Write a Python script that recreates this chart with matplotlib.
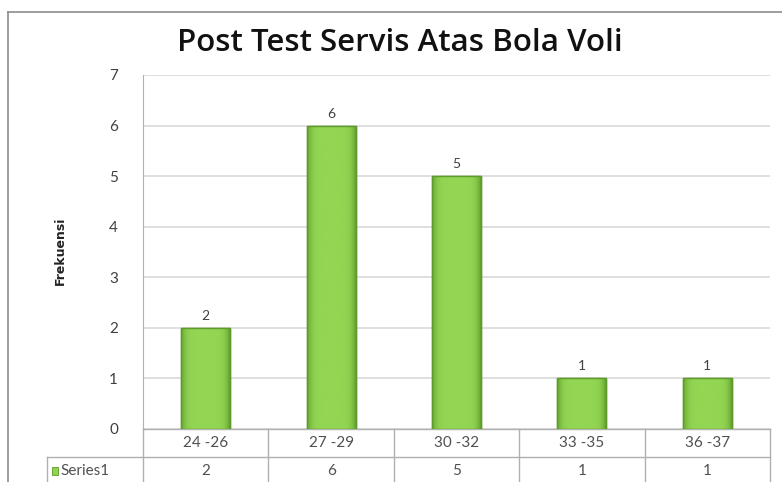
#!/usr/bin/env python3
"""
Post Test Servis Atas Bola Voli - histogramme style Excel avec table de données
"""

import matplotlib
matplotlib.use('Agg')
import matplotlib.pyplot as plt
from matplotlib.patches import Rectangle
from matplotlib.transforms import blended_transform_factory
import numpy as np

categories = ['24 -26', '27 -29', '30 -32', '33 -35', '36 -37']
frekuensi = [2, 6, 5, 1, 1]
series_name = 'Series1'
title = 'Post Test Servis Atas Bola Voli'
y_label = 'Frekuensi'

W, H = 782, 482
plt.rcParams['font.family'] = ['Lato', 'DejaVu Sans']

fig = plt.figure(figsize=(W / 100, H / 100), dpi=100)

def px(x0, y0, x1, y1):
    # pixels -> fraction de figure
    return [x0 / W, 1 - y1 / H, (x1 - x0) / W, (y1 - y0) / H]

# cadre extérieur du graphique (ouvert à droite et en bas)
fig.add_artist(plt.Line2D([8 / W, 8 / W], [0, 1 - 12 / H], transform=fig.transFigure,
                          color='#8c8c8c', linewidth=1.2))
fig.add_artist(plt.Line2D([8 / W, 1], [1 - 12 / H, 1 - 12 / H], transform=fig.transFigure,
                          color='#8c8c8c', linewidth=1.2))

ax = fig.add_axes(px(143, 75, 770, 429))
x = np.arange(len(categories))
bars = ax.bar(x, frekuensi, width=0.39, color='#8fd44c', edgecolor='#5f9a2c', linewidth=1, zorder=3)

# dégradé horizontal pour imiter le biseau Excel
t = np.linspace(-1, 1, 200)
grad = (1 - np.abs(t) ** 6)[None, :]
cmap = matplotlib.colors.LinearSegmentedColormap.from_list('g', ['#5f9e2c', '#93d653'])
for b in bars:
    im = ax.imshow(grad, cmap=cmap, aspect='auto', zorder=3.5, interpolation='bilinear',
                   extent=(b.get_x(), b.get_x() + b.get_width(), 0, b.get_height()))
    im.set_clip_path(b)
    ax.add_patch(Rectangle((b.get_x(), 0), b.get_width(), b.get_height(), fill=False,
                           edgecolor='#5f9a2c', linewidth=1, zorder=4))

for xi, v in zip(x, frekuensi):
    ax.text(xi, v + 0.12, str(v), ha='center', va='bottom', fontsize=10, color='#404040')

ax.set_xlim(-0.5, len(categories) - 0.5)
ax.set_ylim(0, 7)
ax.set_yticks(range(8))
ax.tick_params(axis='y', length=0, pad=18, labelsize=11, labelcolor='#404040')
ax.set_xticks([])
ax.grid(axis='y', color='#d9d9d9', linewidth=1.2, zorder=0)
for side in ['top', 'right', 'bottom']:
    ax.spines[side].set_visible(False)
ax.spines['left'].set_color('#b0b0b0')

# table de données sous le graphique
tr = blended_transform_factory(ax.transData, ax.transAxes)
row_h = 28 / 354
line_kw = dict(color='#b0b0b0', linewidth=1, clip_on=False)
left_tab = -0.5 - (143 - 47) / 627 * 5
ax.plot([-0.5, 4.5], [0, 0], transform=tr, **line_kw)
ax.plot([left_tab, 4.5], [-row_h, -row_h], transform=tr, **line_kw)
ax.plot([left_tab, left_tab], [-row_h, -3 * row_h], transform=tr, **line_kw)
for i in range(len(categories) + 1):
    ax.plot([i - 0.5, i - 0.5], [0, -3 * row_h], transform=tr, **line_kw)
for xi, c, v in zip(x, categories, frekuensi):
    ax.text(xi, -row_h / 2, c, transform=tr, ha='center', va='center', fontsize=11, color='#505050')
    ax.text(xi, -1.5 * row_h, str(v), transform=tr, ha='center', va='center', fontsize=11, color='#505050')
ax.add_patch(Rectangle((left_tab + 0.04, -1.5 * row_h - 0.012), 0.05, 0.024, transform=tr,
                       facecolor='#8fd44c', edgecolor='#5f9a2c', linewidth=0.6, clip_on=False))
ax.text(left_tab + 0.11, -1.5 * row_h, series_name, transform=tr, ha='left', va='center',
        fontsize=11, color='#505050')

fig.text(400 / W, 1 - 43 / H, title, ha='center', va='center', fontsize=22.5, fontweight='semibold',
         family=['Open Sans', 'DejaVu Sans'], color='#111111')
fig.text(60 / W, 1 - 251 / H, y_label, ha='center', va='center', rotation=90, fontsize=9,
         fontweight='bold', family=['Liberation Sans Narrow', 'DejaVu Sans'],
         color='#222222')

fig.savefig('out.png', dpi=100)
